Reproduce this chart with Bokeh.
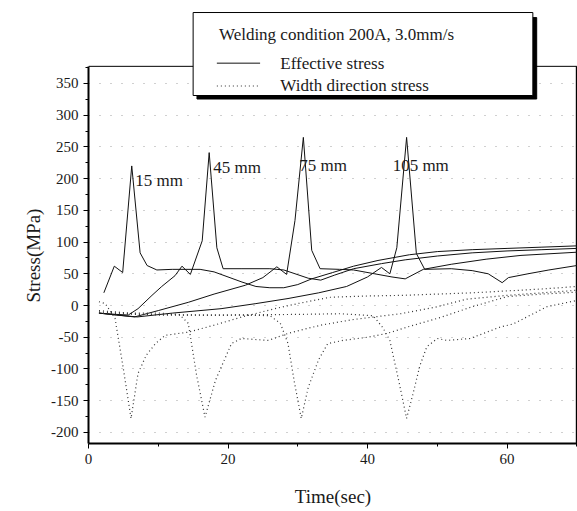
import math
from bokeh.plotting import figure
from bokeh.models import FixedTicker, Range1d, Title
from bokeh.embed import file_html
from bokeh.resources import INLINE
from bokeh.core.properties import value

# ---------------- data ----------------
# Effective stress (solid) at the four measuring points
t_eff_15 = [2.2, 3.7, 4.9, 6.2, 7.4, 8.4, 9.8, 12, 16, 18, 20, 22, 24, 26, 28, 30, 32, 35, 38, 41.5, 46, 50, 55, 60, 65, 70]
s_eff_15 = [20, 62, 52, 220, 83, 63, 56, 57, 57, 53, 45, 37, 30, 28, 28, 33, 42, 52, 62, 71, 80, 85, 88, 90, 92, 94]

t_eff_45 = [1.5, 4, 5.7, 7.1, 9.1, 10.5, 12.4, 13.4, 14.6, 16.3, 17.3, 18.4, 19.3, 22, 26, 28, 31.5, 33.3, 35.3, 38, 42, 45.4, 50, 55, 60, 65, 70]
s_eff_45 = [-12, -14, -15, -5, 16, 30, 47, 62, 49, 102, 241, 91, 58, 58, 58, 56, 43, 40, 48, 58, 66, 72, 78, 83, 86, 88, 90]

t_eff_75 = [1.5, 4, 6.6, 10, 14.3, 18, 22.5, 25, 27, 28.4, 29.6, 30.8, 32, 33.2, 36, 38, 41, 43.5, 45.4, 48, 52, 57, 62, 70]
s_eff_75 = [-12, -15, -18, -8, 5, 18, 32, 44, 61, 49, 134, 265, 87, 58, 57, 56, 50, 45, 42, 57, 65, 73, 79, 84]

t_eff_105 = [1.5, 5, 7, 12, 19, 24, 28.6, 33, 37, 40, 42, 43.2, 44.2, 45.6, 47, 48.2, 52, 55, 57.3, 59.3, 60.2, 63, 66, 70]
s_eff_105 = [-12, -16, -18, -12, -5, 3, 11, 20, 30, 45, 60, 50, 91, 265, 82, 57, 58, 55, 50, 36, 44, 50, 56, 63]

# Width direction stress (dotted)
t_wid_15 = [1.5, 2.4, 3.8, 5.0, 6.1, 7.1, 8.3, 9.6, 11, 14.3, 18, 22, 26.7, 30, 34.6, 40, 45, 50, 55, 60, 65, 70]
s_wid_15 = [6, 3, -20, -100, -178, -107, -78, -60, -47, -42, -31, -18, -5, 3, 13, 15, 16, 18, 20, 23, 26, 30]

t_wid_45 = [1.5, 6, 10, 13, 14.3, 15.5, 16.7, 18.2, 20.5, 21.9, 25.8, 28.6, 30.3, 33.3, 38, 44.7, 50, 54.2, 60, 65, 70]
s_wid_45 = [-8, -12, -12, -14, -28, -110, -176, -118, -60, -52, -55, -44, -39, -31, -22, -13, -2, 10, 16, 20, 24]

t_wid_75 = [1.5, 8, 16, 22, 26, 27.5, 28.6, 29.5, 30.5, 31.5, 33, 34.3, 36.5, 40, 42.8, 46, 50.4, 55, 60, 65, 70]
s_wid_75 = [-10, -14, -15, -15, -16, -28, -60, -120, -178, -129, -85, -60, -55, -50, -44, -33, -19, -2, 14, 18, 21]

t_wid_105 = [1.5, 10, 20, 30, 36, 40.8, 42.2, 43.2, 44.5, 45.6, 46.5, 47.5, 48.5, 50, 51.4, 54.7, 57.1, 59, 60.9, 65.7, 70]
s_wid_105 = [-12, -15, -15, -14, -13, -16, -35, -55, -120, -178, -140, -95, -65, -52, -55, -52, -42, -34, -29, -2, 8]

# peak labels
peak_labels = ["15 mm", "45 mm", "75 mm", "105 mm"]
peak_label_t = [6.7, 17.9, 30.2, 43.6]
peak_label_s = [197, 217, 221, 221]

# axes
x_ticks = [0, 20, 40, 60]
x_minor = [10, 30, 50, 70]
y_ticks = [-200, -150, -100, -50, 0, 50, 100, 150, 200, 250, 300, 350]
y_tick_labels = ["-200", "-150", "-100", "-50", "0", "50", "100", "150", "200", "250", "300", "350"]
y_minor = list(range(-200, 376, 25))

legend_title = "Welding condition 200A, 3.0mm/s"
legend_items = ["Effective stress", "Width direction stress"]

X_MAX = 70
Y_TOP = 377
Y_BOT = -217.5

SERIF = "Liberation Serif"
INK = "#1a1a1a"

p = figure(width=577, height=511, output_backend="svg", toolbar_location=None,
           title=None, x_range=Range1d(0, 70.1), y_range=Range1d(Y_BOT, 465),
           min_border_left=88, min_border_right=0, min_border_top=10, min_border_bottom=68)
p.outline_line_color = None
p.background_fill_color = "white"
p.border_fill_color = "white"
p.xgrid.visible = False
p.ygrid.grid_line_color = "#777777"
p.ygrid.grid_line_dash = "1 10"
p.ygrid.grid_line_alpha = 0.7
p.ygrid.bounds = (0, X_MAX)

# axes styling
p.xaxis.ticker = FixedTicker(ticks=x_ticks, minor_ticks=x_minor)
p.yaxis.ticker = FixedTicker(ticks=y_ticks, minor_ticks=y_minor)
p.ygrid.ticker = FixedTicker(ticks=y_ticks)
p.yaxis.major_label_overrides = {v: l for v, l in zip(y_ticks, y_tick_labels)}
p.yaxis.bounds = (Y_BOT, Y_TOP)
for ax in (p.xaxis[0], p.yaxis[0]):
    ax.axis_line_color = "black"
    ax.axis_line_width = 2
    ax.major_tick_line_color = "black"
    ax.minor_tick_line_color = "black"
    ax.major_tick_in = 0
    ax.major_tick_out = 5
    ax.minor_tick_in = 0
    ax.minor_tick_out = 3
    ax.major_label_text_font = SERIF
    ax.major_label_text_font_size = "15px"
    ax.major_label_text_color = INK
    ax.major_label_standoff = 5
    ax.axis_label_text_font = SERIF
    ax.axis_label_text_font_size = "19px"
    ax.axis_label_text_font_style = "normal"
    ax.axis_label_text_color = INK
p.xaxis.axis_label = "Time(sec)"
p.xaxis.axis_label_standoff = 19

# y axis title placed in the left panel, starting near the zero line
p.add_layout(Title(text="Stress(MPa)", align="left", offset=141, standoff=10,
                   text_font=SERIF, text_font_size="19px", text_font_style="normal",
                   text_color=INK), "left")

# frame: top and right border
p.segment(x0=[0], y0=[Y_TOP], x1=[X_MAX], y1=[Y_TOP], line_color="black", line_width=1)
p.segment(x0=[X_MAX], y0=[Y_BOT], x1=[X_MAX], y1=[Y_TOP], line_color="black", line_width=2)

# curves
for t, s in [(t_eff_15, s_eff_15), (t_eff_45, s_eff_45), (t_eff_75, s_eff_75), (t_eff_105, s_eff_105)]:
    p.line(t, s, line_color="#111111", line_width=1)
for t, s in [(t_wid_15, s_wid_15), (t_wid_45, s_wid_45), (t_wid_75, s_wid_75), (t_wid_105, s_wid_105)]:
    p.line(t, s, line_color="#333333", line_width=1.2, line_dash="1 3")

p.text(x=peak_label_t, y=peak_label_s, text=peak_labels, text_font=value(SERIF),
       text_font_size="17px", text_color=INK, text_baseline="middle", text_align="left")

# legend box with shadow
bx0, bx1, by0, by1 = 15.0, 63.7, 331, 461.8
p.quad(left=[bx0 + 0.55], right=[bx1 + 0.55], bottom=[by0 - 5.5], top=[by1 - 8],
       fill_color="black", line_color="black")
p.quad(left=[bx0], right=[bx1], bottom=[by0], top=[by1],
       fill_color="white", line_color="black", line_width=1)
p.text(x=[18.7], y=[427], text=[legend_title], text_font=value(SERIF),
       text_font_size="17px", text_color=INK, text_baseline="middle")
p.text(x=[27.5, 27.5], y=[382, 346], text=legend_items, text_font=value(SERIF),
       text_font_size="17px", text_color=INK, text_baseline="middle")
p.line([18.4, 24.6], [382, 382], line_color="#111111", line_width=1)
p.line([18.4, 24.6], [346, 346], line_color="#333333", line_width=1.2, line_dash="1 3")

open("out.html", "w").write(file_html(p, INLINE))
